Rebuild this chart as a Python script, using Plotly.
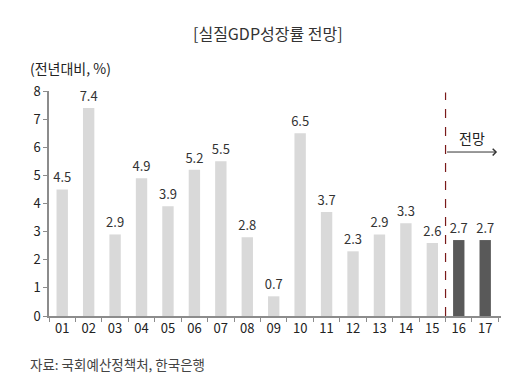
import plotly.graph_objects as go

years = ["01","02","03","04","05","06","07","08","09","10","11","12","13","14","15","16","17"]
growth = [4.5,7.4,2.9,4.9,3.9,5.2,5.5,2.8,0.7,6.5,3.7,2.3,2.9,3.3,2.6,2.7,2.7]
is_forecast = [False]*15 + [True]*2
y_ticks = [0,1,2,3,4,5,6,7,8]

colors = ["#595959" if f else "#d9d9d9" for f in is_forecast]
font = "Noto Sans CJK KR, Malgun Gothic, sans-serif"

fig = go.Figure(go.Bar(
    x=years, y=growth, marker=dict(color=colors, line=dict(width=0)),
    width=0.43,
    text=[f"{v:.1f}" for v in growth], textposition="outside",
    constraintext="none",
    textfont=dict(size=13, color="#333333", family=font),
    cliponaxis=False,
))

# page body has an 8px default margin; compensate so the plot lands where the reference has it
fig.update_layout(
    width=512, height=376,
    margin=dict(l=41, r=19, t=83, b=68),
    paper_bgcolor="white", plot_bgcolor="white",
    showlegend=False,
    font=dict(family=font, color="#333333"),
    xaxis=dict(showline=True, linecolor="#8c8c8c", linewidth=1.5,
               ticks="outside", tickson="boundaries", ticklen=4, tickcolor="#8c8c8c",
               tickfont=dict(size=13, color="#222222"), showgrid=False, fixedrange=True),
    yaxis=dict(range=[0,8], tickvals=y_ticks, showline=True, linecolor="#8c8c8c", linewidth=1.5,
               ticks="outside", ticklen=4, tickcolor="#8c8c8c", showgrid=False, zeroline=False,
               tickfont=dict(size=13, color="#222222"), fixedrange=True),
    annotations=[
        dict(text="[실질GDP성장률 전망]", xref="paper", yref="paper", x=0.484, y=1.0,
             yanchor="middle", yshift=58, showarrow=False, font=dict(size=16, color="#333333")),
        dict(text="(전년대비, %)", xref="paper", yref="paper", x=-0.047, xanchor="left",
             y=1.0, yanchor="middle", yshift=23, showarrow=False, font=dict(size=14, color="#222222")),
        dict(text="자료: 국회예산정책처, 한국은행", xref="paper", yref="paper", x=-0.047, xanchor="left",
             y=0, yanchor="middle", yshift=-48, showarrow=False, font=dict(size=13.5, color="#444444")),
        dict(text="전망", x=15.5, y=6.32, xref="x", yref="y", showarrow=False,
             font=dict(size=14, color="#222222")),
        dict(x=16.45, y=5.83, ax=14.5, ay=5.83, xref="x", yref="y", axref="x", ayref="y",
             showarrow=True, arrowhead=4, arrowsize=1.3, arrowwidth=1, arrowcolor="#333333", text=""),
    ],
    shapes=[dict(type="line", x0=14.5, x1=14.5, y0=0, y1=7.95, xref="x", yref="y",
                 line=dict(color="#7a1a1a", width=1.2, dash="dash"))],
)

fig.write_html("out.html")
